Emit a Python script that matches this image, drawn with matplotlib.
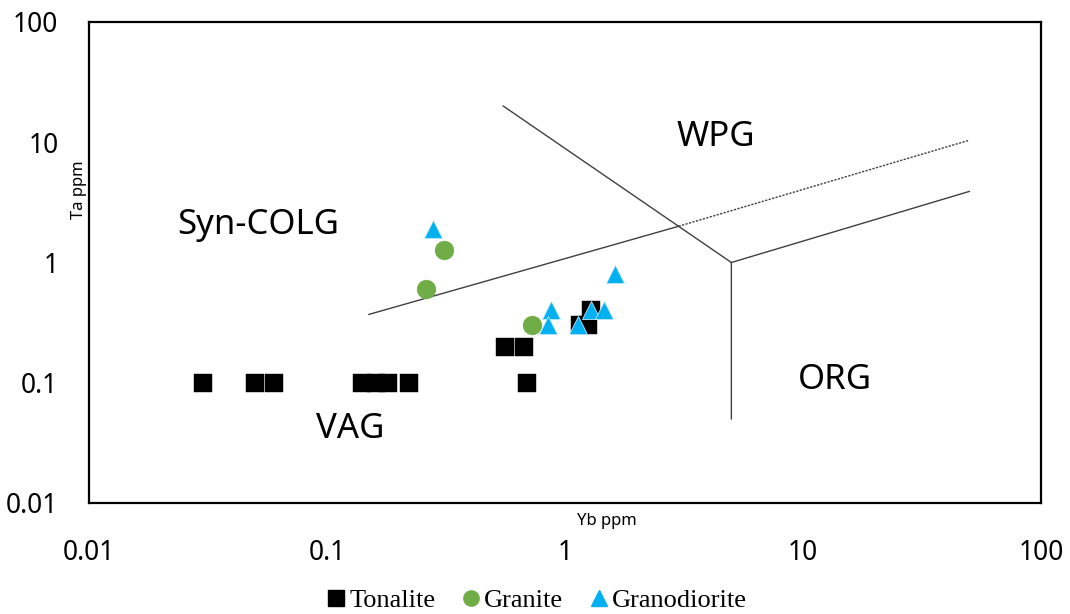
import numpy as np
import matplotlib
matplotlib.use("Agg")
import matplotlib.pyplot as plt
from matplotlib.lines import Line2D

# sample data (Yb ppm, Ta ppm)
tonalite_yb = [0.03, 0.05, 0.06, 0.14, 0.16, 0.18, 0.22, 0.69, 0.56, 0.67, 1.16, 1.25, 1.28]
tonalite_ta = [0.1, 0.1, 0.1, 0.1, 0.1, 0.1, 0.1, 0.1, 0.2, 0.2, 0.3, 0.3, 0.4]
granite_yb = [0.31, 0.26, 0.73]
granite_ta = [1.27, 0.6, 0.3]
granodiorite_yb = [0.28, 1.62, 0.87, 0.85, 1.13, 1.28, 1.46]
granodiorite_ta = [1.9, 0.8, 0.4, 0.3, 0.3, 0.4, 0.4]

# Pearce et al. (1984) discrimination boundaries
vag_wpg_yb = [0.15, 3.0]
vag_wpg_ta = [0.37, 2.0]
dash_yb = [3.0, 50]
dash_ta = [2.0, 10.4]
wpg_left_yb = [0.55, 5.0, 5.0]
wpg_left_ta = [20.0, 1.0, 0.05]
org_yb = [5.0, 50]
org_ta = [1.0, 3.9]

fields = ["Syn-COLG", "WPG", "VAG", "ORG"]
field_x = [0.0513, 4.31, 0.125, 13.6]
field_y = [2.05, 11.1, 0.0412, 0.105]

ticks = [0.01, 0.1, 1, 10, 100]
tick_labels = ["0.01", "0.1", "1", "10", "100"]

fig = plt.figure(figsize=(10.7, 6.14), dpi=100)
ax = fig.add_axes([0.0832, 0.1808, 0.8897, 0.7834])
ax.set_xscale("log")
ax.set_yscale("log")
ax.set_xlim(0.01, 100)
ax.set_ylim(0.01, 100)

lc = "#404040"
ax.plot(vag_wpg_yb, vag_wpg_ta, color=lc, lw=1.0, zorder=1)
ax.plot(dash_yb, dash_ta, color=lc, lw=1.0, dashes=(1.6, 1.0), zorder=1)
ax.plot(wpg_left_yb, wpg_left_ta, color=lc, lw=1.0, zorder=1)
ax.plot(org_yb, org_ta, color=lc, lw=1.0, zorder=1)

ax.plot(tonalite_yb, tonalite_ta, ls="none", marker="s", ms=13.5, mfc="black",
        mec="black", mew=0.3, zorder=3)
ax.plot(granite_yb, granite_ta, ls="none", marker="o", ms=13.5, mfc="#70AD47",
        mec="#70AD47", mew=0.4, zorder=4)
ax.plot(granodiorite_yb, granodiorite_ta, ls="none", marker="^", ms=13.5, mfc="#00B0F0",
        mec="#bfe9fb", mew=0.6, zorder=5)

for name, fx, fy in zip(fields, field_x, field_y):
    ax.text(fx, fy, name, ha="center", va="center", fontsize=25, family="Noto Sans")

ax.minorticks_off()
ax.set_xticks(ticks)
ax.set_xticklabels(tick_labels, family="Noto Sans", fontsize=19)
ax.set_yticks(ticks)
ax.set_yticklabels(tick_labels, family="Noto Sans", fontsize=19)
ax.tick_params(axis="x", length=0, pad=26)
ax.tick_params(axis="y", length=0, pad=22)
for s in ax.spines.values():
    s.set_linewidth(1.6)
    s.set_color("black")

fig.text(607 / 1070, 1 - 521 / 614, "Yb ppm", ha="center", va="center",
         fontsize=12, family="Noto Sans")
fig.text(79 / 1070, 1 - 190 / 614, "Ta ppm", ha="center", va="center",
         fontsize=12, family="Noto Sans", rotation=90)

handles = [
    Line2D([], [], ls="none", marker="s", ms=11, mfc="black", mec="black"),
    Line2D([], [], ls="none", marker="o", ms=11, mfc="#70AD47", mec="#70AD47"),
    Line2D([], [], ls="none", marker="^", ms=11, mfc="#00B0F0", mec="#00B0F0"),
]
fig.legend(handles, ["Tonalite", "Granite", "Granodiorite"], loc="center",
           bbox_to_anchor=(0.502, 0.022), ncol=3, frameon=False,
           handlelength=0.7, handletextpad=0.15, columnspacing=1.0,
           prop={"family": "Liberation Serif", "size": 19})

fig.savefig("out.png", dpi=100)
